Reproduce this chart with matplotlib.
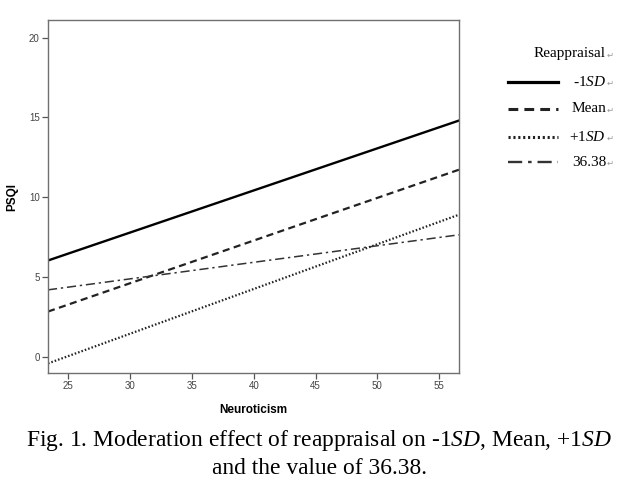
import matplotlib
matplotlib.use("Agg")
import matplotlib.pyplot as plt
from matplotlib.lines import Line2D

plt.rcParams["mathtext.fontset"] = "custom"
plt.rcParams["mathtext.it"] = "Liberation Serif:italic"
plt.rcParams["mathtext.rm"] = "Liberation Serif"

# Data
x_range = [23.36, 56.6]
series_names = ["-1$\\it{SD}$", "Mean", "+1$\\it{SD}$", "36.38"]
minus1sd = [6.03, 14.8]
mean_vals = [2.83, 11.72]
plus1sd = [-0.42, 8.9]
val3638 = [4.19, 7.64]
x_ticks = [25, 30, 35, 40, 45, 50, 55]
y_ticks = [0, 5, 10, 15, 20]

W, H = 638, 494
fig = plt.figure(figsize=(W / 100, H / 100), dpi=100)
ax = fig.add_axes([48 / W, 1 - 373 / H, (459 - 48) / W, (373 - 20) / H])

styles = [
    dict(color="black", lw=1.7, linestyle="-"),
    dict(color="#222222", lw=1.6, linestyle=(0, (3.2, 2.0))),
    dict(color="#222222", lw=1.6, linestyle=(0, (0.7, 0.9))),
    dict(color="#333333", lw=1.1, linestyle=(0, (6, 2.5, 1.5, 2.5))),
]
series = [minus1sd, mean_vals, plus1sd, val3638]
for vals, st in zip(series, styles):
    ax.plot(x_range, vals, **st)

ax.set_xlim(23.36, 56.6)
ax.set_ylim(-1.02, 21.1)
ax.set_xticks(x_ticks)
ax.set_yticks(y_ticks)
for s in ax.spines.values():
    s.set_color("#707070")
    s.set_linewidth(1.0)
ax.tick_params(direction="out", length=4, width=0.9, color="#555555",
               labelsize=7, labelcolor="#444444", pad=2)
ax.set_xlabel("Neuroticism", fontsize=8.5, fontweight="bold", labelpad=9,
              family="Liberation Sans")
ax.set_ylabel("PSQI", fontsize=8.5, fontweight="bold", labelpad=8,
              family="Liberation Sans")
for lab in ax.get_xticklabels() + ax.get_yticklabels():
    lab.set_family("Liberation Sans")

# Manual legend
serif = "Liberation Serif"
def fx(px):
    return px / W
def fy(py):
    return 1 - py / H

mark_kw = dict(fontsize=6, color="#999999", family=["DejaVu Sans"], va="center", ha="left")
fig.text(fx(606), fy(54), "Reappraisal", fontsize=11, family=serif, ha="right", va="center")
fig.text(fx(607), fy(55), "\u21b5", **mark_kw)

rows_y = [82, 109, 137, 162]
for ry, st, lab in zip(rows_y, styles, series_names):
    st2 = dict(st)
    st2["lw"] = st["lw"] + 0.6
    fig.add_artist(Line2D([fx(508), fx(558)], [fy(ry), fy(ry)],
                          transform=fig.transFigure, **st2))
    fig.text(fx(606), fy(ry), lab, fontsize=11, family=serif, ha="right", va="center")
    fig.text(fx(607), fy(ry + 1), "\u21b5", **mark_kw)

# Caption
fig.text(0.5, fy(440), "Fig. 1. Moderation effect of reappraisal on -1$\\it{SD}$, Mean, +1$\\it{SD}$",
         fontsize=16.9, family=serif, ha="center", va="center")
fig.text(0.5, fy(468), "and the value of 36.38.", fontsize=16.9, family=serif,
         ha="center", va="center")

fig.savefig("out.png", dpi=100)
